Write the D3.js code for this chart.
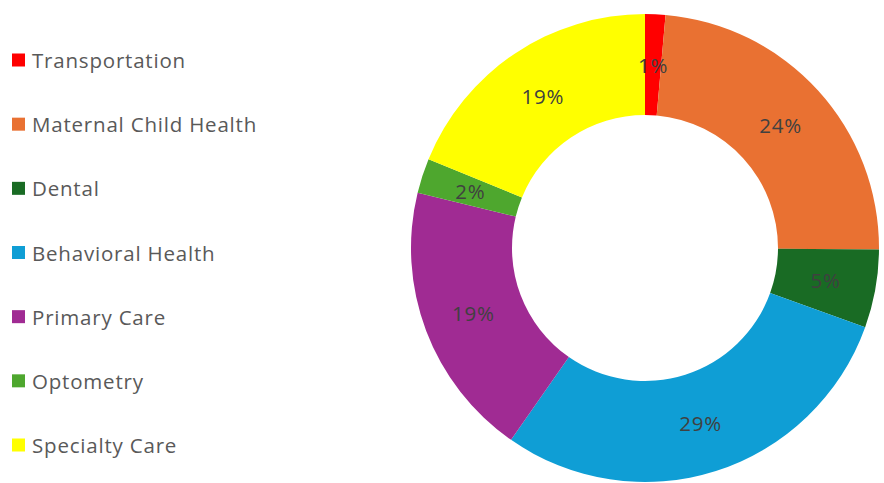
<!DOCTYPE html>
<html>
<head>
<meta charset="utf-8">
<script src="https://cdn.jsdelivr.net/npm/d3@7/dist/d3.min.js"></script>
<style>
  html, body { margin: 0; padding: 0; background: #fff; }
  svg { display: block; }
</style>
</head>
<body>
<svg id="chart" width="884" height="483"></svg>
<script>
// Program shares (percent of total)
const categories = ["Transportation", "Maternal Child Health", "Dental", "Behavioral Health", "Primary Care", "Optometry", "Specialty Care"];
const values = [1.4, 23.7, 5.4, 29.2, 19.1, 2.4, 18.8];
const colors = ["#FF0000", "#E97132", "#196B24", "#0F9ED5", "#A02B93", "#4EA72E", "#FFFF00"];

const svg = d3.select("#chart");

const cx = 645, cy = 248;
const outerR = 234, innerR = 133;
const fontFamily = "'Open Sans', 'Noto Sans', sans-serif";

const data = categories.map((c, i) => ({ name: c, value: values[i], color: colors[i] }));
const total = d3.sum(values);

const pie = d3.pie().value(d => d.value).sort(null);
const arc = d3.arc().innerRadius(innerR).outerRadius(outerR);

const g = svg.append("g").attr("transform", `translate(${cx},${cy})`);
const arcs = pie(data);

g.selectAll("path.slice")
  .data(arcs)
  .join("path")
  .attr("class", "slice")
  .attr("d", arc)
  .attr("fill", d => d.data.color);

const fmt = d3.format(".0%");
g.selectAll("text.pct")
  .data(arcs)
  .join("text")
  .attr("class", "pct")
  .attr("transform", d => `translate(${arc.centroid(d)})`)
  .attr("text-anchor", "middle")
  .attr("dominant-baseline", "central")
  .attr("font-family", fontFamily)
  .attr("font-size", 20.5)
  .attr("letter-spacing", 0.8)
  .attr("fill", "#404040")
  .text(d => fmt(d.data.value / total));

// Legend down the left side
const legendY = d3.scalePoint().domain(categories).range([60, 445]);
const legend = svg.append("g");
const item = legend.selectAll("g.item")
  .data(data)
  .join("g")
  .attr("class", "item")
  .attr("transform", d => `translate(12,${legendY(d.name)})`);

item.append("rect")
  .attr("x", 0).attr("y", -6.5)
  .attr("width", 13).attr("height", 13)
  .attr("fill", d => d.color);

item.append("text")
  .attr("x", 20)
  .attr("y", 0)
  .attr("dominant-baseline", "central")
  .attr("font-family", fontFamily)
  .attr("font-size", 20.5)
  .attr("letter-spacing", 0.8)
  .attr("fill", "#595959")
  .text(d => d.name);
</script>
</body>
</html>
